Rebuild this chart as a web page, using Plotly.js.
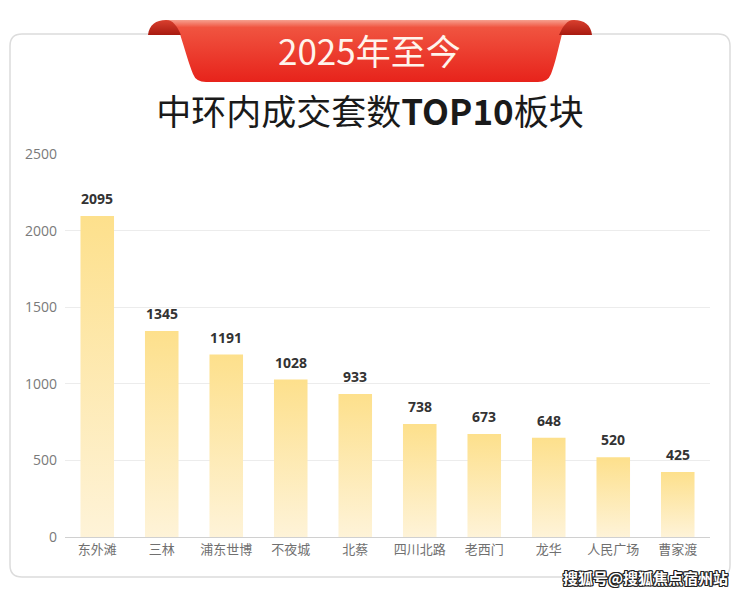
<!DOCTYPE html>
<html>
<head>
<meta charset="utf-8">
<script src="https://cdn.plot.ly/plotly-3.0.1.min.js"></script>
<style>
html,body{margin:0;padding:0;background:#fff;}
#chart{width:740px;height:593px;}
</style>
</head>
<body>
<svg width="0" height="0" style="position:absolute">
  <defs>
    <linearGradient id="barGrad" x1="0" y1="0" x2="0" y2="1">
      <stop offset="0" stop-color="#FDE08C"/>
      <stop offset="1" stop-color="#FEF3D8"/>
    </linearGradient>
    <linearGradient id="ribbonGrad" x1="0" y1="0" x2="0" y2="1">
      <stop offset="0" stop-color="#F6A08F"/>
      <stop offset="0.12" stop-color="#F05440"/>
      <stop offset="1" stop-color="#E7231B"/>
    </linearGradient>
    <linearGradient id="curlGrad" x1="0" y1="0" x2="0" y2="1">
      <stop offset="0" stop-color="#D9402E"/>
      <stop offset="1" stop-color="#A81A10"/>
    </linearGradient>
  </defs>
</svg>
<div id="chart"></div>
<script>
// ---- data ----
const categories = ['东外滩','三林','浦东世博','不夜城','北蔡','四川北路','老西门','龙华','人民广场','曹家渡'];
const values = [2095, 1345, 1191, 1028, 933, 738, 673, 648, 520, 425];
const yTickValues = [0, 500, 1000, 1500, 2000, 2500];
const bannerText = '2025年至今';
const titleText = '中环内成交套数<b>TOP10</b>板块';
const watermarkText = '搜狐号@搜狐焦点宿州站';

// ---- layout helpers (pixel -> paper) ----
const W = 740, H = 593;
const M = {l: 65, r: 30, t: 154, b: 56};
const PW = W - M.l - M.r, PH = H - M.t - M.b;
const px = x => (x - M.l) / PW;
const py = y => (H - M.b - y) / PH;
function path(pts) {
  return pts.map(p => {
    const c = p[0]; const nums = p.slice(1);
    let s = c;
    for (let i = 0; i < nums.length; i += 2) s += ' ' + px(nums[i]).toFixed(5) + ',' + py(nums[i+1]).toFixed(5);
    return s;
  }).join(' ');
}

const cardR = 12, cx0 = 10, cx1 = 730, cy0 = 34, cy1 = 577;
const cardPath = path([
  ['M', cx0 + cardR, cy0], ['L', cx1 - cardR, cy0], ['Q', cx1, cy0, cx1, cy0 + cardR],
  ['L', cx1, cy1 - cardR], ['Q', cx1, cy1, cx1 - cardR, cy1],
  ['L', cx0 + cardR, cy1], ['Q', cx0, cy1, cx0, cy1 - cardR],
  ['L', cx0, cy0 + cardR], ['Q', cx0, cy0, cx0 + cardR, cy0]
]) + ' Z';

const bodyPath = path([
  ['M', 165, 20], ['L', 575, 20], ['L', 562, 34], ['C', 558, 50, 555, 64, 551, 74],
  ['Q', 548, 82, 538, 82], ['L', 206, 82], ['Q', 196, 82, 193, 74],
  ['C', 189, 64, 185, 50, 180, 34], ['L', 165, 20]
]) + ' Z';
const leftCurl = path([
  ['M', 148, 35], ['C', 149, 25, 156, 20, 166, 20], ['C', 173, 20, 177, 26, 181, 35]
]) + ' Z';
const rightCurl = path([
  ['M', 592, 35], ['C', 591, 25, 584, 20, 574, 20], ['C', 567, 20, 563, 26, 559, 35]
]) + ' Z';

const cjk = '"Noto Sans CJK SC", "Noto Sans", sans-serif';

const trace = {
  type: 'bar',
  x: categories,
  y: values,
  marker: {color: 'rgb(253, 226, 150)', line: {width: 0}},
  hoverinfo: 'x+y'
};

const labelAnnotations = categories.map((c, i) => ({
  x: c, y: values[i], xref: 'x', yref: 'y',
  text: '<b>' + values[i] + '</b>', showarrow: false,
  yanchor: 'bottom', yshift: 6,
  font: {family: '"Open Sans", "Noto Sans", sans-serif', size: 14, color: '#333333'}
}));

const layout = {
  width: W, height: H,
  margin: M,
  paper_bgcolor: '#ffffff',
  plot_bgcolor: 'rgba(0,0,0,0)',
  showlegend: false,
  bargap: 0.48,
  title: {
    text: titleText,
    x: 0.5, xref: 'container', xanchor: 'center',
    y: 1 - 113 / H, yref: 'container', yanchor: 'middle',
    font: {family: cjk, size: 35, color: '#1a1a1a', weight: 400}
  },
  xaxis: {
    type: 'category',
    showgrid: false,
    showline: true, linecolor: '#d0d0d0', linewidth: 1,
    ticks: '',
    tickfont: {family: cjk, size: 13, color: '#707070'},
    fixedrange: true
  },
  yaxis: {
    range: [0, 2500],
    tickvals: yTickValues,
    ticktext: yTickValues.map(String),
    showgrid: true, gridcolor: '#ececec', gridwidth: 1,
    zeroline: false,
    showline: false,
    ticks: '',
    ticklabelstandoff: 7,
    tickfont: {family: '"Open Sans", "Noto Sans", sans-serif', size: 14, color: '#7a7a7a'},
    fixedrange: true
  },
  shapes: [
    {type: 'path', xref: 'paper', yref: 'paper', path: cardPath, layer: 'below',
     fillcolor: '#ffffff', line: {color: '#dcdcdc', width: 1.5}},
    {type: 'path', xref: 'paper', yref: 'paper', path: bodyPath, layer: 'above',
     fillcolor: 'rgb(236, 42, 34)', line: {width: 0}},
    {type: 'path', xref: 'paper', yref: 'paper', path: leftCurl, layer: 'above',
     fillcolor: 'rgb(180, 30, 20)', line: {width: 0}},
    {type: 'path', xref: 'paper', yref: 'paper', path: rightCurl, layer: 'above',
     fillcolor: 'rgb(180, 30, 20)', line: {width: 0}}
  ],
  annotations: labelAnnotations.concat([
    {xref: 'paper', yref: 'paper', x: px(369), y: py(50), xanchor: 'center', yanchor: 'middle',
     text: bannerText, showarrow: false,
     font: {family: cjk, size: 35, color: '#FFF4EC', weight: 400}},
    {xref: 'paper', yref: 'paper', x: px(645), y: py(577), xanchor: 'center', yanchor: 'middle',
     text: '<b>' + watermarkText + '</b>', showarrow: false,
     font: {family: cjk, size: 15, color: '#ffffff',
            shadow: '1px 1px 0 #222, -1px -1px 0 #222, 1px -1px 0 #222, -1px 1px 0 #222, 0 1px 0 #222, 0 -1px 0 #222, 1px 0 0 #222, -1px 0 0 #222'}}
  ])
};

function applyGradients() {
  const gd = document.getElementById('chart');
  gd.querySelectorAll('.trace.bars .point path').forEach(p => { p.style.fill = 'url(#barGrad)'; });
  gd.querySelectorAll('path').forEach(p => {
    const f = p.style.fill;
    if (f === 'rgb(236, 42, 34)') p.style.fill = 'url(#ribbonGrad)';
    else if (f === 'rgb(180, 30, 20)') p.style.fill = 'url(#curlGrad)';
  });
}

Plotly.newPlot('chart', [trace], layout, {displayModeBar: false, staticPlot: true}).then(gd => {
  applyGradients();
  gd.on('plotly_afterplot', applyGradients);
});
</script>
</body>
</html>
